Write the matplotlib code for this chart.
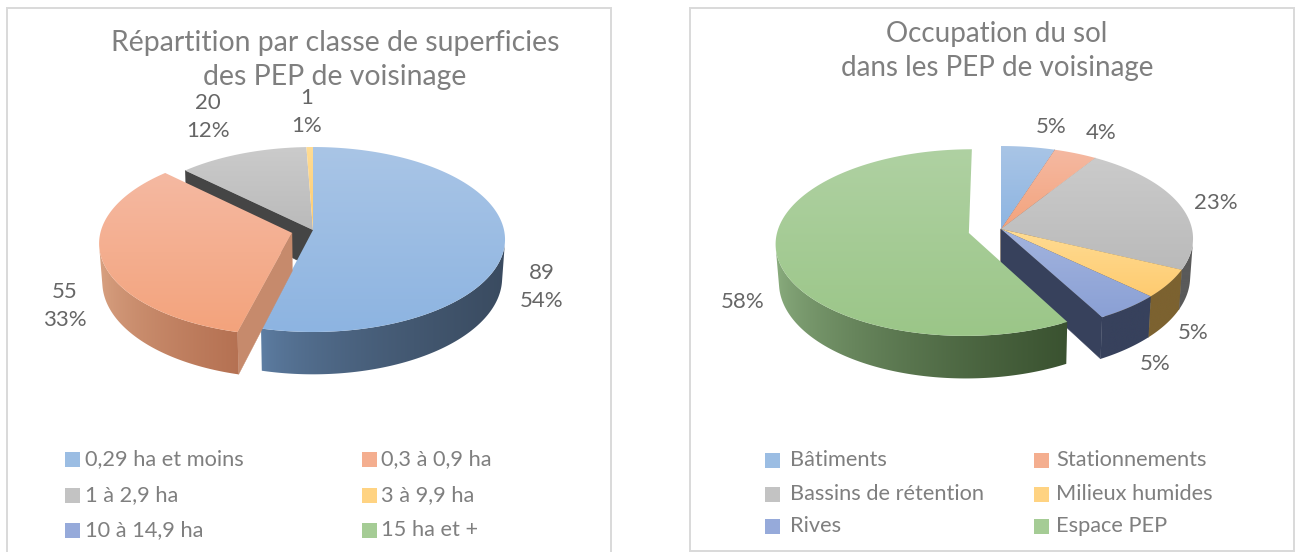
import itertools

import matplotlib

matplotlib.use("Agg")
import matplotlib.pyplot as plt
import numpy as np
from matplotlib.colors import to_rgb
from matplotlib.patches import Polygon, Rectangle

plt.rcParams["font.family"] = ["Lato", "DejaVu Sans"]

# left chart
superficie_classes = ["0,29 ha et moins", "0,3 à 0,9 ha", "1 à 2,9 ha", "3 à 9,9 ha", "10 à 14,9 ha", "15 ha et +"]
superficie_counts = [89, 55, 20, 1, 0, 0]
superficie_title = "Répartition par classe de superficies\ndes PEP de voisinage"

# right chart
occupation_classes = ["Bâtiments", "Stationnements", "Bassins de rétention", "Milieux humides", "Rives", "Espace PEP"]
occupation_pct = [5, 4, 23, 5, 5, 58]
occupation_title = "Occupation du sol\ndans les PEP de voisinage"

# top gradient (far, near) and rim gradient (left, right) of each slice colour
top_colors = [("#a9c5e6", "#8db4e1"), ("#f5b9a2", "#f3a37c"), ("#cbcbcb", "#bababa"),
              ("#ffdc94", "#fecb70"), ("#a3b4de", "#8aa0d5"), ("#afd1a2", "#9bc688")]
rim_colors = [("#5f80a6", "#3a4b60"), ("#dba585", "#b57152"), ("#5a5a5a", "#5a5a5a"),
              ("#7c6230", "#7c6230"), ("#37415c", "#37415c"), ("#8db081", "#3a5230")]
radial_colors = ["#3a4b60", "#c68a6c", "#454545", "#7c6230", "#37415c", "#3a5230"]

TEXT_COLOR = "#7f7f7f"
LABEL_COLOR = "#666666"
A, B, K = 191.0, 91.5, 0.1027
DEPTH = 38.0
SHRINK = 0.985

order = itertools.count(2)


def project(cx, cy, u, v, low=False):
    w = 1 + K * v
    x = u / w * A
    y = cy - B * v / w
    if low:
        x = x * SHRINK
        y = y + DEPTH / w
    return cx + x, y


def signed_area(pts):
    x, y = np.array(pts).T
    return 0.5 * np.sum(x * np.roll(y, -1) - np.roll(x, -1) * y)


def mix(c1, c2, t):
    c1, c2 = np.array(to_rgb(c1)), np.array(to_rgb(c2))
    return tuple(c1 + (c2 - c1) * t)


def gradient_face(ax, pts, colors, horizontal=False):
    z = next(order)
    patch = Polygon(pts, closed=True, fc="none", ec="none", zorder=z)
    ax.add_patch(patch)
    pts = np.array(pts)
    extent = (pts[:, 0].min() - 1, pts[:, 0].max() + 1, pts[:, 1].max() + 1, pts[:, 1].min() - 1)
    if horizontal:
        # the rims darken fast on the left and then flatten out
        grad = np.array([[mix(colors[0], colors[1], t ** 0.6) for t in np.linspace(0, 1, 128)]])
    else:
        grad = np.array([[mix(colors[0], colors[1], t)] for t in np.linspace(0, 1, 64)])
    im = ax.imshow(grad, extent=extent, aspect="auto", zorder=z, interpolation="bilinear")
    im.set_clip_path(patch)


def draw_slice_sides(ax, cx, cy, a0, a1, ou, ov, rim, radial_color):
    # radial faces, only the ones turned to the viewer (slivers are skipped)
    for ang, sign in ((a0, 1), (a1, -1)):
        u, v = np.sin(ang) + ou, np.cos(ang) + ov
        quad = [project(cx, cy, ou, ov), project(cx, cy, u, v),
                project(cx, cy, u, v, True), project(cx, cy, ou, ov, True)]
        if sign * signed_area(quad) < -300.0:
            ax.add_patch(Polygon(quad, closed=True, fc=radial_color, ec=radial_color, lw=0.3, zorder=next(order)))
    # curved rim, visible part only
    angs = np.linspace(a0, a1, max(int((a1 - a0) * 70), 2))
    upper, lower = [], []
    for i in range(len(angs) - 1):
        u0, v0 = np.sin(angs[i]) + ou, np.cos(angs[i]) + ov
        u1, v1 = np.sin(angs[i + 1]) + ou, np.cos(angs[i + 1]) + ov
        quad = [project(cx, cy, u0, v0), project(cx, cy, u1, v1),
                project(cx, cy, u1, v1, True), project(cx, cy, u0, v0, True)]
        if signed_area(quad) < 0:
            upper += quad[:2]
            lower += quad[:1:-1]
    if upper:
        gradient_face(ax, upper + lower[::-1], rim, horizontal=True)


def draw_pie(ax, cx, cy, values, exploded, explode):
    fracs = np.array(values, dtype=float) / sum(values)
    edges = np.concatenate(([0], np.cumsum(fracs))) * 2 * np.pi
    slices = []
    for i in range(len(values)):
        if values[i] == 0:
            continue
        mid = (edges[i] + edges[i + 1]) / 2
        e = explode if i == exploded else 0
        slices.append((i, edges[i], edges[i + 1], e * np.sin(mid), e * np.cos(mid)))

    for group in ([s for s in slices if s[0] != exploded], [s for s in slices if s[0] == exploded]):
        for i, a0, a1, ou, ov in group:
            draw_slice_sides(ax, cx, cy, a0, a1, ou, ov, rim_colors[i], radial_colors[i])
        for i, a0, a1, ou, ov in group:
            angs = np.linspace(a0, a1, 200)
            pts = [project(cx, cy, ou, ov)]
            pts += [project(cx, cy, np.sin(t) + ou, np.cos(t) + ov) for t in angs]
            gradient_face(ax, pts, top_colors[i])


def draw_legend(ax, names, rows_y, swatch_x, text_x):
    for i, name in enumerate(names):
        col, row = i % 2, i // 2
        y = rows_y[row]
        ax.add_patch(Rectangle((swatch_x[col], y - 7.5), 15, 15, fc=mix(*top_colors[i], 0.5), ec="none", zorder=1))
        ax.text(text_x[col], y, name, fontsize=15.7, color=TEXT_COLOR, va="center", ha="left")


fig = plt.figure(figsize=(12.95, 5.52), dpi=100)
ax = fig.add_axes([0, 0, 1, 1])

# frames, the left one runs past the bottom of the picture
ax.add_patch(Rectangle((6.5, 7.5), 604.5, 560, fc="white", ec="#d9d9d9", lw=1.4, zorder=0))
ax.add_patch(Rectangle((689.5, 8), 604.5, 543, fc="white", ec="#d9d9d9", lw=1.4, zorder=0))

# left pie
draw_pie(ax, 313, 230, superficie_counts, 1, 0.114)
ax.text(335, 60, superficie_title, fontsize=20.4, color=TEXT_COLOR, ha="center", va="center", linespacing=1.38)
total = sum(superficie_counts)
left_label_pos = [(542, 287), (65, 306), (208, 117), (307, 112)]
for val, pos in zip(superficie_counts, left_label_pos):
    ax.text(pos[0], pos[1], f"{val}\n{round(val / total * 100):d}%", fontsize=16, color=LABEL_COLOR,
            ha="center", va="center", linespacing=1.55)
draw_legend(ax, superficie_classes, [459, 495, 530], [65, 362], [85, 381])

# right pie
draw_pie(ax, 1001, 229, occupation_pct, 5, 0.173)
ax.text(997, 51, occupation_title, fontsize=20, color=TEXT_COLOR, ha="center", va="center", linespacing=1.4)
right_label_pos = [(1051, 127), (1101, 133), (1216, 203), (1193, 333), (1155, 364), (743, 302)]
for val, pos in zip(occupation_pct, right_label_pos):
    ax.text(pos[0], pos[1], f"{val}%", fontsize=16, color=LABEL_COLOR, ha="center", va="center")
draw_legend(ax, occupation_classes, [460, 494, 526], [765, 1034], [790, 1056])

ax.set_xlim(0, 1295)
ax.set_ylim(552, 0)
ax.axis("off")
fig.savefig("out.png", dpi=100)
